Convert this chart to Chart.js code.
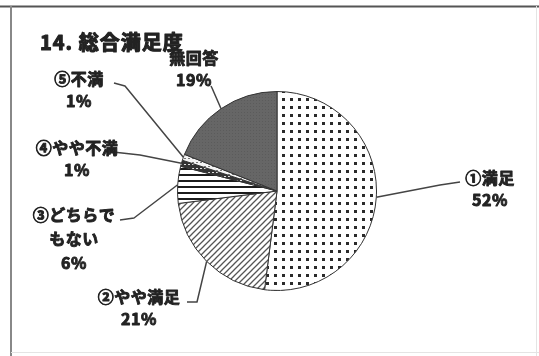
<!DOCTYPE html>
<html lang="ja">
<head>
<meta charset="utf-8">
<title>14. 総合満足度</title>
<script src="https://cdn.jsdelivr.net/npm/chart.js@4.4.1/dist/chart.umd.min.js"></script>
<style>
  html, body { margin: 0; padding: 0; background: #fff; }
  #wrap { position: relative; width: 539px; height: 356px; }
</style>
</head>
<body>
<div id="wrap"><canvas id="satisfactionChart" width="539" height="356"></canvas></div>
<script>
// 回答区分と割合（%）
const categories = ['①満足', '②やや満足', '③どちらでもない', '④やや不満', '⑤不満', '無回答'];
const shares = [52, 21, 6, 1, 1, 19];
// ラベルの表示行（最後に割合を付ける）
const labelLines = [['①満足'], ['②やや満足'], ['③どちらで', 'もない'], ['④やや不満'], ['⑤不満'], ['無回答']];
const chartTitle = '14. 総合満足度';

// ラベル位置と引き出し線の折れ点
const labelPos = [
    { x: 490, y: 178, from: [460, 182], knee: [440, 185] },
    { x: 139, y: 297, from: [187, 302], knee: [197, 302] },
    { x: 74, y: 215, from: [120, 220], knee: [134, 218] },
    { x: 77, y: 148, from: [113, 152], knee: [140, 155] },
    { x: 79, y: 79, from: [114, 83], knee: [125, 86] },
    { x: 194, y: 58, from: [211, 86], knee: [212, 88] }
];

function makePattern(w, h, draw) {
    const c = document.createElement('canvas');
    c.width = w; c.height = h;
    const g = c.getContext('2d');
    draw(g, w, h);
    return g.createPattern(c, 'repeat');
}

// 網掛けパターン
const dots = makePattern(8, 8, (g, w, h) => {
    g.fillStyle = '#fff'; g.fillRect(0, 0, w, h);
    g.fillStyle = '#2a2a2a'; g.fillRect(2, 2, 3, 3);
});
const diag = makePattern(6, 6, (g, w, h) => {
    g.fillStyle = '#fff'; g.fillRect(0, 0, w, h);
    g.strokeStyle = '#555'; g.lineWidth = 1.3;
    g.beginPath();
    g.moveTo(-1, 7); g.lineTo(7, -1);
    g.moveTo(-1, 1); g.lineTo(1, -1);
    g.moveTo(5, 7); g.lineTo(7, 5);
    g.stroke();
});
const horiz = makePattern(6, 6, (g, w, h) => {
    g.fillStyle = '#fff'; g.fillRect(0, 0, w, h);
    g.fillStyle = '#1c1c1c'; g.fillRect(0, 0, w, 2);
});
const darkStripe = makePattern(4, 4, (g, w, h) => {
    g.fillStyle = '#333'; g.fillRect(0, 0, w, h);
    g.fillStyle = '#ddd'; g.fillRect(0, 0, 2, 1);
});
const whiteDash = makePattern(4, 4, (g, w, h) => {
    g.fillStyle = '#f4f4f4'; g.fillRect(0, 0, w, h);
    g.fillStyle = '#777'; g.fillRect(0, 2, 2, 1);
});
const grey = makePattern(3, 3, (g, w, h) => {
    g.fillStyle = '#666'; g.fillRect(0, 0, w, h);
    g.fillStyle = '#5b5b5b'; g.fillRect(1, 1, 1, 1);
});

const FONT = '"Noto Sans CJK JP", "Noto Sans", sans-serif';

// 太めの文字（塗り＋細い縁取り）
function heavyText(ctx, text, x, y, stroke) {
    ctx.lineWidth = stroke;
    ctx.lineJoin = 'round';
    ctx.strokeText(text, x, y);
    ctx.fillText(text, x, y);
}

// 外枠とタイトル
const framePlugin = {
    id: 'frame',
    beforeDraw(chart) {
        const ctx = chart.ctx;
        ctx.save();
        ctx.strokeStyle = '#555'; ctx.lineWidth = 2;
        ctx.beginPath(); ctx.moveTo(0, 6.5); ctx.lineTo(539, 6.5); ctx.stroke();
        ctx.strokeStyle = '#888'; ctx.lineWidth = 2;
        ctx.beginPath(); ctx.moveTo(11, 6); ctx.lineTo(11, 356); ctx.stroke();
        ctx.strokeStyle = '#e4e4e4'; ctx.lineWidth = 1;
        ctx.beginPath(); ctx.moveTo(11, 352.5); ctx.lineTo(539, 352.5); ctx.stroke();
        ctx.beginPath(); ctx.moveTo(536.5, 6); ctx.lineTo(536.5, 356); ctx.stroke();
        ctx.fillStyle = '#222'; ctx.strokeStyle = '#222';
        ctx.font = `bold 20px ${FONT}`;
        ctx.letterSpacing = '1px';
        ctx.textAlign = 'left'; ctx.textBaseline = 'middle';
        heavyText(ctx, chartTitle, 40, 42, 1.1);
        ctx.restore();
    }
};

// 引き出し線付きラベル
const calloutPlugin = {
    id: 'callouts',
    afterDraw(chart) {
        const ctx = chart.ctx;
        const arcs = chart.getDatasetMeta(0).data;
        ctx.save();
        arcs.forEach((arc, i) => {
            const p = arc.getProps(['x', 'y', 'startAngle', 'endAngle', 'outerRadius'], true);
            const mid = (p.startAngle + p.endAngle) / 2;
            const ex = p.x + Math.cos(mid) * p.outerRadius;
            const ey = p.y + Math.sin(mid) * p.outerRadius;
            const pos = labelPos[i];
            ctx.strokeStyle = '#444'; ctx.lineWidth = 1.5;
            ctx.beginPath();
            ctx.moveTo(pos.from[0], pos.from[1]);
            ctx.lineTo(pos.knee[0], pos.knee[1]);
            ctx.lineTo(ex, ey);
            ctx.stroke();

            const lines = labelLines[i].concat([shares[i] + '%']);
            ctx.fillStyle = '#222'; ctx.strokeStyle = '#222';
            ctx.font = `bold 16px ${FONT}`;
            ctx.letterSpacing = '0.5px';
            ctx.textAlign = 'center'; ctx.textBaseline = 'middle';
            lines.forEach((t, k) => {
                const gap = k === 0 ? 0 : (labelLines[i].length > 1 ? 24 : 22);
                heavyText(ctx, t, pos.x, pos.y + k * gap, 0.9);
            });
        });
        ctx.restore();
    }
};

new Chart(document.getElementById('satisfactionChart'), {
    type: 'pie',
    data: {
        labels: categories,
        datasets: [{
            data: shares,
            backgroundColor: [dots, diag, horiz, darkStripe, whiteDash, grey],
            borderColor: '#333',
            borderWidth: 1
        }]
    },
    options: {
        responsive: false,
        animation: false,
        layout: { padding: { top: 91, bottom: 65, left: 177, right: 162 } },
        plugins: {
            legend: { display: false },
            tooltip: { enabled: false }
        }
    },
    plugins: [framePlugin, calloutPlugin]
});
</script>
</body>
</html>
